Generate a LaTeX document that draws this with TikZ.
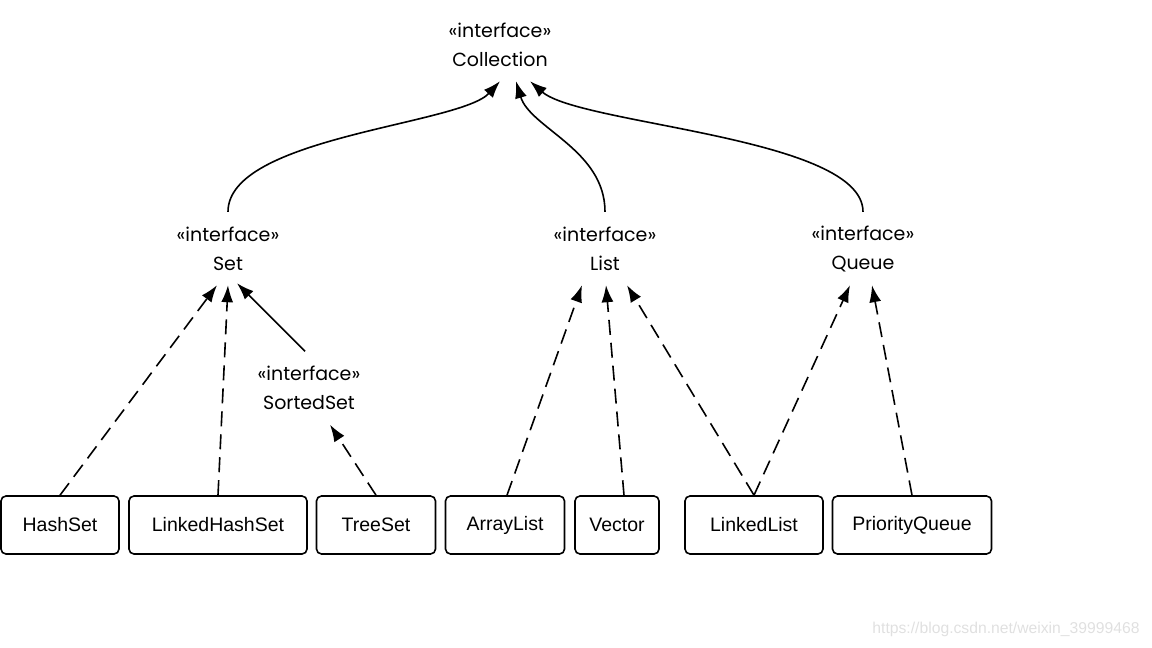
\documentclass[tikz,border=0pt]{standalone}
\usepackage{fontspec}
\setmainfont{Liberation Sans}
\newfontfamily\ifacefont{Poppins}
\usetikzlibrary{arrows.meta}

\tikzset{
  iface/.style={align=center, font=\ifacefont\fontsize{19}{29}\selectfont, inner sep=0pt, minimum height=73pt},
  cls/.style={draw, line width=1.6pt, rounded corners=5pt, minimum height=58pt, font=\fontsize{19.5}{23}\selectfont},
  impl/.style={line width=1.6pt, dash pattern=on 15pt off 8pt, -{Latex[length=17pt,width=12pt]}},
  ext/.style={line width=1.6pt, -{Latex[length=17pt,width=12pt]}},
}

\begin{document}
\begin{tikzpicture}[x=1pt,y=1pt]
  \useasboundingbox (0,0) rectangle (1152,-648);
  \node[iface] (coll) at (500,-44.5) {«interface»\\Collection};
  \node[iface] (set) at (228,-248.5) {«interface»\\Set};
  \node[iface] (list) at (605,-248.5) {«interface»\\List};
  \node[iface] (queue) at (863,-248.5) {«interface»\\Queue};
  \node[iface] (sorted) at (309,-388) {«interface»\\SortedSet};
  % classes: name/x/width/label
  \foreach \n/\x/\w/\t in {hashset/60/118/HashSet, linkedhashset/218/178/LinkedHashSet,
      treeset/376/119/TreeSet, arraylist/505/119/ArrayList, vector/617/84/Vector,
      linkedlist/754/138/LinkedList, priorityqueue/912/159/PriorityQueue}
    {\node[cls, minimum width=\w pt] (\n) at (\x,-525) {\t};}
  \node[font=\fontsize{15.7}{18}\selectfont, text=black!12] (wm) at (1006,-629) {https://blog.csdn.net/weixin\_39999468};

  \draw[ext] (set.north) .. controls ([yshift=75pt]set.north) and (460,-125) .. ([xshift=0pt]coll.south);
  \draw[ext] (list.north) .. controls ([yshift=62pt]list.north) and (530,-128) .. ([xshift=16pt]coll.south);
  \draw[ext] (queue.north) .. controls ([yshift=75pt]queue.north) and (580,-125) .. ([xshift=30pt]coll.south);

  \draw[impl] (hashset.north) -- ([xshift=-11pt]set.south);
  \draw[impl] (linkedhashset.north) -- (set.south);
  \draw[ext] ([xshift=-4pt]sorted.north) -- ([xshift=9pt,yshift=2pt]set.south);
  \draw[impl] (treeset.north) -- ([xshift=21pt]sorted.south);
  \draw[impl] ([xshift=2pt]arraylist.north) -- ([xshift=-23pt]list.south);
  \draw[impl] ([xshift=7pt]vector.north) -- ([xshift=1pt]list.south);
  \draw[impl] (linkedlist.north) -- ([xshift=22pt]list.south);
  \draw[impl] (linkedlist.north) -- ([xshift=-13pt]queue.south);
  \draw[impl] (priorityqueue.north) -- ([xshift=9pt]queue.south);
\end{tikzpicture}
\end{document}
